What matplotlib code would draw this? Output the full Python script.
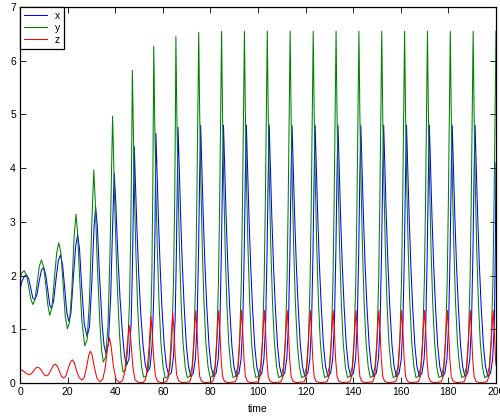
import matplotlib
matplotlib.use("Agg")
import matplotlib.pyplot as plt

# values, one row per oscillation

# x (blue)
t_x = [
    0.0, 0.9, 1.9, 2.8, 3.7, 4.6, 5.4, 6.2,
    7.1, 8.0, 9.0, 9.9, 10.8, 11.7, 12.5, 13.2,
    14.1, 15.1, 16.1, 17.0, 17.9, 18.8, 19.7, 20.5,
    21.4, 22.4, 23.4, 24.2, 25.0, 25.9, 27.0, 28.2,
    29.2, 30.2, 31.1, 31.8, 32.5, 33.4, 34.5, 35.3, 36.1,
    37.1, 38.1, 38.9, 39.6, 40.2, 41.0, 42.0, 43.0, 43.9, 44.8,
    45.8, 46.7, 47.3, 47.7, 48.0, 48.5, 49.1, 49.9, 50.8, 51.7, 52.6, 53.5,
    54.6, 55.5, 56.2, 56.7, 57.1, 57.6, 58.2, 58.9, 59.7, 60.6, 61.5, 62.5,
    63.6, 64.5, 65.2, 65.7, 66.1, 66.4, 66.9, 67.5, 68.2, 69.0, 69.9, 70.8, 71.8,
    72.8, 73.7, 74.4, 75.0, 75.5, 75.9, 76.4, 77.0, 77.7, 78.5, 79.4, 80.3, 81.3,
    82.4, 83.3, 84.0, 84.6, 85.1, 85.5, 86.0, 86.6, 87.3, 88.1, 89.0, 89.9, 90.9,
    92.0, 92.9, 93.6, 94.2, 94.7, 95.1, 95.6, 96.2, 96.9, 97.7, 98.6, 99.5, 100.5,
    101.6, 102.5, 103.2, 103.8, 104.3, 104.7, 105.2, 105.8, 106.5, 107.3, 108.2, 109.1, 110.1,
    111.2, 112.1, 112.8, 113.4, 113.9, 114.3, 114.8, 115.4, 116.1, 116.9, 117.8, 118.7, 119.7,
    120.9, 121.8, 122.5, 123.1, 123.6, 124.0, 124.5, 125.1, 125.8, 126.6, 127.5, 128.4, 129.4,
    130.5, 131.4, 132.1, 132.7, 133.2, 133.6, 134.1, 134.7, 135.4, 136.2, 137.1, 138.0, 139.0,
    140.1, 141.0, 141.7, 142.3, 142.8, 143.2, 143.7, 144.3, 145.0, 145.8, 146.7, 147.6, 148.6,
    149.7, 150.6, 151.3, 151.9, 152.4, 152.8, 153.3, 153.9, 154.6, 155.4, 156.3, 157.2, 158.2,
    159.3, 160.2, 160.9, 161.5, 162.0, 162.4, 162.9, 163.5, 164.2, 165.0, 165.9, 166.8, 167.8,
    168.9, 169.8, 170.5, 171.1, 171.6, 172.0, 172.5, 173.1, 173.8, 174.6, 175.5, 176.4, 177.4,
    178.5, 179.4, 180.1, 180.7, 181.2, 181.6, 182.1, 182.7, 183.4, 184.2, 185.1, 186.0, 187.0,
    188.1, 189.0, 189.7, 190.3, 190.8, 191.2, 191.7, 192.3, 193.0, 193.8, 194.7, 195.6, 196.6,
    197.7, 198.6, 199.3, 199.7, 200.0,
]
x_vals = [
    1.75, 1.90, 1.99, 2.01, 1.93, 1.74, 1.58, 1.55,
    1.64, 1.88, 2.10, 2.15, 2.02, 1.72, 1.45, 1.39,
    1.52, 1.92, 2.28, 2.38, 2.20, 1.75, 1.30, 1.15,
    1.30, 1.95, 2.55, 2.76, 2.50, 1.80, 1.10, 0.86,
    1.05, 1.90, 2.90, 3.28, 2.90, 2.00, 1.10, 0.70, 0.55,
    0.72, 1.60, 2.90, 3.90, 3.40, 2.50, 1.60, 0.95, 0.50, 0.33,
    0.45, 1.10, 2.30, 3.50, 4.40, 3.70, 2.90, 2.00, 1.25, 0.70, 0.35, 0.20,
    0.28, 0.70, 1.60, 2.80, 4.65, 3.90, 3.00, 2.15, 1.35, 0.70, 0.32, 0.14,
    0.19, 0.50, 1.20, 2.40, 3.80, 4.76, 4.00, 3.10, 2.20, 1.40, 0.70, 0.30, 0.12,
    0.18, 0.45, 1.10, 2.40, 3.90, 4.80, 4.00, 3.10, 2.20, 1.40, 0.70, 0.30, 0.12,
    0.18, 0.45, 1.10, 2.40, 3.90, 4.80, 4.00, 3.10, 2.20, 1.40, 0.70, 0.30, 0.12,
    0.18, 0.45, 1.10, 2.40, 3.90, 4.80, 4.00, 3.10, 2.20, 1.40, 0.70, 0.30, 0.12,
    0.18, 0.45, 1.10, 2.40, 3.90, 4.80, 4.00, 3.10, 2.20, 1.40, 0.70, 0.30, 0.12,
    0.18, 0.45, 1.10, 2.40, 3.90, 4.80, 4.00, 3.10, 2.20, 1.40, 0.70, 0.30, 0.12,
    0.18, 0.45, 1.10, 2.40, 3.90, 4.80, 4.00, 3.10, 2.20, 1.40, 0.70, 0.30, 0.12,
    0.18, 0.45, 1.10, 2.40, 3.90, 4.80, 4.00, 3.10, 2.20, 1.40, 0.70, 0.30, 0.12,
    0.18, 0.45, 1.10, 2.40, 3.90, 4.80, 4.00, 3.10, 2.20, 1.40, 0.70, 0.30, 0.12,
    0.18, 0.45, 1.10, 2.40, 3.90, 4.80, 4.00, 3.10, 2.20, 1.40, 0.70, 0.30, 0.12,
    0.18, 0.45, 1.10, 2.40, 3.90, 4.80, 4.00, 3.10, 2.20, 1.40, 0.70, 0.30, 0.12,
    0.18, 0.45, 1.10, 2.40, 3.90, 4.80, 4.00, 3.10, 2.20, 1.40, 0.70, 0.30, 0.12,
    0.18, 0.45, 1.10, 2.40, 3.90, 4.80, 4.00, 3.10, 2.20, 1.40, 0.70, 0.30, 0.12,
    0.18, 0.45, 1.10, 2.40, 3.90, 4.80, 4.00, 3.10, 2.20, 1.40, 0.70, 0.30, 0.12,
    0.18, 0.45, 1.10, 2.40, 4.10,
]

# y (green)
t_y = [
    0.0, 0.8, 1.8, 2.8, 3.8, 4.6, 5.4,
    6.3, 7.2, 8.1, 9.0, 9.9, 10.8, 11.7, 12.5,
    13.4, 14.4, 15.4, 16.3, 17.2, 18.1, 19.0, 19.9,
    20.8, 21.8, 22.7, 23.5, 24.2, 25.0, 26.0, 27.2,
    28.2, 29.2, 30.2, 31.0, 31.6, 32.4, 33.5, 34.3, 35.0,
    36.0, 37.0, 37.8, 38.4, 38.9, 39.4, 40.0, 40.8, 41.7, 42.5, 43.3,
    44.3, 45.2, 46.0, 46.5, 46.9, 47.2, 47.6, 48.1, 48.7, 49.4, 50.2, 51.1, 51.9,
    53.0, 54.0, 54.8, 55.4, 55.8, 56.2, 56.6, 57.1, 57.7, 58.4, 59.2, 60.1, 61.0,
    62.0, 63.0, 63.8, 64.5, 65.0, 65.3, 65.5, 65.9, 66.4, 67.0, 67.7, 68.5, 69.4, 70.3,
    71.3, 72.3, 73.1, 73.8, 74.3, 74.7, 75.1, 75.5, 76.0, 76.6, 77.3, 78.1, 79.0, 79.9,
    80.9, 81.9, 82.7, 83.4, 83.9, 84.3, 84.7, 85.1, 85.6, 86.2, 86.9, 87.7, 88.6, 89.5,
    90.5, 91.5, 92.3, 93.0, 93.5, 93.9, 94.3, 94.7, 95.2, 95.8, 96.5, 97.3, 98.2, 99.1,
    100.1, 101.1, 101.9, 102.6, 103.1, 103.5, 103.9, 104.3, 104.8, 105.4, 106.1, 106.9, 107.8, 108.7,
    109.7, 110.7, 111.5, 112.2, 112.7, 113.1, 113.5, 113.9, 114.4, 115.0, 115.7, 116.5, 117.4, 118.3,
    119.4, 120.4, 121.2, 121.9, 122.4, 122.8, 123.2, 123.6, 124.1, 124.7, 125.4, 126.2, 127.1, 128.0,
    129.0, 130.0, 130.8, 131.5, 132.0, 132.4, 132.8, 133.2, 133.7, 134.3, 135.0, 135.8, 136.7, 137.6,
    138.6, 139.6, 140.4, 141.1, 141.6, 142.0, 142.4, 142.8, 143.3, 143.9, 144.6, 145.4, 146.3, 147.2,
    148.2, 149.2, 150.0, 150.7, 151.2, 151.6, 152.0, 152.4, 152.9, 153.5, 154.2, 155.0, 155.9, 156.8,
    157.8, 158.8, 159.6, 160.3, 160.8, 161.2, 161.6, 162.0, 162.5, 163.1, 163.8, 164.6, 165.5, 166.4,
    167.4, 168.4, 169.2, 169.9, 170.4, 170.8, 171.2, 171.6, 172.1, 172.7, 173.4, 174.2, 175.1, 176.0,
    177.0, 178.0, 178.8, 179.5, 180.0, 180.4, 180.8, 181.2, 181.7, 182.3, 183.0, 183.8, 184.7, 185.6,
    186.6, 187.6, 188.4, 189.1, 189.6, 190.0, 190.4, 190.8, 191.3, 191.9, 192.6, 193.4, 194.3, 195.2,
    196.2, 197.2, 198.0, 198.7, 199.2, 199.6, 200.0,
]
y_vals = [
    1.95, 2.05, 2.09, 2.00, 1.75, 1.55, 1.46,
    1.56, 1.85, 2.17, 2.29, 2.17, 1.84, 1.45, 1.26,
    1.40, 1.90, 2.42, 2.61, 2.42, 1.85, 1.25, 1.01,
    1.12, 1.75, 2.70, 3.14, 2.80, 2.00, 1.15, 0.69,
    0.80, 1.55, 3.00, 3.97, 3.40, 2.30, 1.15, 0.60, 0.39,
    0.48, 1.10, 2.40, 3.80, 4.97, 4.10, 3.00, 1.90, 1.00, 0.45, 0.20,
    0.24, 0.60, 1.50, 2.70, 4.20, 5.82, 4.80, 3.50, 2.40, 1.45, 0.75, 0.30, 0.11,
    0.12, 0.30, 0.85, 2.00, 3.60, 6.27, 4.90, 3.60, 2.50, 1.50, 0.75, 0.30, 0.09,
    0.11, 0.28, 0.80, 1.90, 3.40, 5.00, 6.45, 5.00, 3.70, 2.50, 1.50, 0.75, 0.30, 0.10,
    0.12, 0.30, 0.80, 1.90, 3.40, 5.00, 6.53, 5.00, 3.70, 2.50, 1.50, 0.75, 0.30, 0.10,
    0.12, 0.30, 0.80, 1.90, 3.40, 5.00, 6.55, 5.00, 3.70, 2.50, 1.50, 0.75, 0.30, 0.10,
    0.12, 0.30, 0.80, 1.90, 3.40, 5.00, 6.55, 5.00, 3.70, 2.50, 1.50, 0.75, 0.30, 0.10,
    0.12, 0.30, 0.80, 1.90, 3.40, 5.00, 6.55, 5.00, 3.70, 2.50, 1.50, 0.75, 0.30, 0.10,
    0.12, 0.30, 0.80, 1.90, 3.40, 5.00, 6.55, 5.00, 3.70, 2.50, 1.50, 0.75, 0.30, 0.10,
    0.12, 0.30, 0.80, 1.90, 3.40, 5.00, 6.55, 5.00, 3.70, 2.50, 1.50, 0.75, 0.30, 0.10,
    0.12, 0.30, 0.80, 1.90, 3.40, 5.00, 6.55, 5.00, 3.70, 2.50, 1.50, 0.75, 0.30, 0.10,
    0.12, 0.30, 0.80, 1.90, 3.40, 5.00, 6.55, 5.00, 3.70, 2.50, 1.50, 0.75, 0.30, 0.10,
    0.12, 0.30, 0.80, 1.90, 3.40, 5.00, 6.55, 5.00, 3.70, 2.50, 1.50, 0.75, 0.30, 0.10,
    0.12, 0.30, 0.80, 1.90, 3.40, 5.00, 6.55, 5.00, 3.70, 2.50, 1.50, 0.75, 0.30, 0.10,
    0.12, 0.30, 0.80, 1.90, 3.40, 5.00, 6.55, 5.00, 3.70, 2.50, 1.50, 0.75, 0.30, 0.10,
    0.12, 0.30, 0.80, 1.90, 3.40, 5.00, 6.55, 5.00, 3.70, 2.50, 1.50, 0.75, 0.30, 0.10,
    0.12, 0.30, 0.80, 1.90, 3.40, 5.00, 6.55, 5.00, 3.70, 2.50, 1.50, 0.75, 0.30, 0.10,
    0.12, 0.30, 0.80, 1.90, 3.40, 5.00, 6.55,
]

# z (red)
t_z = [
    0.0, 1.0, 2.0, 3.0, 3.9, 4.8, 5.8, 6.7, 7.5, 8.4, 9.3, 10.2, 11.0,
    11.9, 12.9, 13.9, 14.8, 15.7, 16.6, 17.5, 18.3,
    19.2, 20.2, 21.2, 22.0, 22.8, 23.7, 24.8, 26.0,
    27.0, 28.0, 28.9, 29.6, 30.3, 31.2, 32.3, 33.6,
    34.8, 35.8, 36.8, 37.6, 38.3, 39.2, 40.3, 41.8,
    43.1, 44.0, 44.9, 45.9, 46.6, 47.4, 48.3, 49.8,
    51.8, 52.6, 53.4, 54.2, 55.0, 55.6, 56.2, 56.9, 57.8, 59.3,
    61.5, 62.3, 63.0, 63.6, 64.2, 64.7, 65.2, 65.8, 66.6, 68.0,
    71.3, 72.1, 72.7, 73.3, 73.9, 74.4, 74.9, 75.5, 76.3, 77.7,
    80.9, 81.7, 82.3, 82.9, 83.5, 84.0, 84.5, 85.1, 85.9, 87.3,
    90.5, 91.3, 91.9, 92.5, 93.1, 93.6, 94.1, 94.7, 95.5, 96.9,
    100.1, 100.9, 101.5, 102.1, 102.7, 103.2, 103.7, 104.3, 105.1, 106.5,
    109.7, 110.5, 111.1, 111.7, 112.3, 112.8, 113.3, 113.9, 114.7, 116.1,
    119.4, 120.2, 120.8, 121.4, 122.0, 122.5, 123.0, 123.6, 124.4, 125.8,
    129.0, 129.8, 130.4, 131.0, 131.6, 132.1, 132.6, 133.2, 134.0, 135.4,
    138.6, 139.4, 140.0, 140.6, 141.2, 141.7, 142.2, 142.8, 143.6, 145.0,
    148.2, 149.0, 149.6, 150.2, 150.8, 151.3, 151.8, 152.4, 153.2, 154.6,
    157.8, 158.6, 159.2, 159.8, 160.4, 160.9, 161.4, 162.0, 162.8, 164.2,
    167.4, 168.2, 168.8, 169.4, 170.0, 170.5, 171.0, 171.6, 172.4, 173.8,
    177.0, 177.8, 178.4, 179.0, 179.6, 180.1, 180.6, 181.2, 182.0, 183.4,
    186.6, 187.4, 188.0, 188.6, 189.2, 189.7, 190.2, 190.8, 191.6, 193.0,
    196.2, 197.0, 197.6, 198.2, 198.8, 199.3, 199.8, 200.0,
]
z_vals = [
    0.250, 0.235, 0.200, 0.165, 0.155, 0.170, 0.230, 0.280, 0.290, 0.270, 0.210, 0.150, 0.130,
    0.150, 0.230, 0.320, 0.350, 0.310, 0.210, 0.120, 0.090,
    0.120, 0.260, 0.390, 0.430, 0.380, 0.240, 0.100, 0.050,
    0.100, 0.300, 0.520, 0.590, 0.520, 0.300, 0.090, 0.020,
    0.070, 0.280, 0.650, 0.840, 0.680, 0.320, 0.070, 0.005,
    0.040, 0.200, 0.620, 1.070, 0.780, 0.300, 0.060, 0.005,
    0.010, 0.050, 0.220, 0.650, 1.240, 0.900, 0.450, 0.130, 0.030, 0.003,
    0.020, 0.100, 0.400, 0.900, 1.310, 0.980, 0.500, 0.160, 0.040, 0.005,
    0.020, 0.120, 0.450, 0.950, 1.350, 0.950, 0.450, 0.120, 0.030, 0.005,
    0.020, 0.120, 0.450, 0.950, 1.350, 0.950, 0.450, 0.120, 0.030, 0.005,
    0.020, 0.120, 0.450, 0.950, 1.350, 0.950, 0.450, 0.120, 0.030, 0.005,
    0.020, 0.120, 0.450, 0.950, 1.350, 0.950, 0.450, 0.120, 0.030, 0.005,
    0.020, 0.120, 0.450, 0.950, 1.350, 0.950, 0.450, 0.120, 0.030, 0.005,
    0.020, 0.120, 0.450, 0.950, 1.350, 0.950, 0.450, 0.120, 0.030, 0.005,
    0.020, 0.120, 0.450, 0.950, 1.350, 0.950, 0.450, 0.120, 0.030, 0.005,
    0.020, 0.120, 0.450, 0.950, 1.350, 0.950, 0.450, 0.120, 0.030, 0.005,
    0.020, 0.120, 0.450, 0.950, 1.350, 0.950, 0.450, 0.120, 0.030, 0.005,
    0.020, 0.120, 0.450, 0.950, 1.350, 0.950, 0.450, 0.120, 0.030, 0.005,
    0.020, 0.120, 0.450, 0.950, 1.350, 0.950, 0.450, 0.120, 0.030, 0.005,
    0.020, 0.120, 0.450, 0.950, 1.350, 0.950, 0.450, 0.120, 0.030, 0.005,
    0.020, 0.120, 0.450, 0.950, 1.350, 0.950, 0.450, 0.120, 0.030, 0.005,
    0.020, 0.120, 0.450, 0.950, 1.350, 0.950, 0.450, 0.330,
]

x_ticks = [0, 20, 40, 60, 80, 100, 120, 140, 160, 180, 200]
y_ticks = [0, 1, 2, 3, 4, 5, 6, 7]

plt.rcParams['font.family'] = ['Liberation Sans', 'DejaVu Sans']
plt.rcParams['font.size'] = 7.5

fig = plt.figure(figsize=(5.0, 4.18), dpi=100)
ax = fig.add_axes([0.04, 0.084, 0.952, 0.899])

ax.plot(t_x, x_vals, color='#0000ff', lw=0.75, label='x')
ax.plot(t_y, y_vals, color='#008000', lw=0.75, label='y')
ax.plot(t_z, z_vals, color='#ff0000', lw=0.75, label='z')

ax.set_xlim(0, 200)
ax.set_ylim(0, 7)
ax.set_xticks(x_ticks)
ax.set_yticks(y_ticks)
ax.tick_params(direction='in', length=4, width=0.6, top=True, right=True, pad=3)
for s in ax.spines.values():
    s.set_linewidth(0.9)
ax.set_xlabel('time', labelpad=5)

leg = ax.legend(loc='upper left', borderaxespad=0, fancybox=False,
                edgecolor='black', framealpha=1, handlelength=2.2,
                handletextpad=0.8, labelspacing=0.2, borderpad=0.35)
leg.get_frame().set_linewidth(0.9)

fig.savefig('out.png', dpi=100)
